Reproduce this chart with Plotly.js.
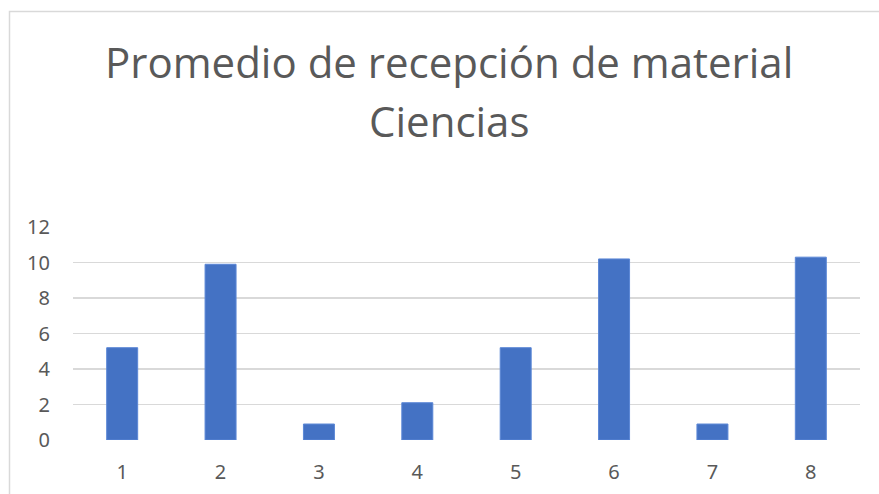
<!DOCTYPE html>
<html>
<head>
<meta charset="utf-8">
<script src="https://cdn.plot.ly/plotly-3.0.1.min.js"></script>
<style>html,body{margin:0;padding:0;background:#fff;}#chart{width:879px;height:494px;}</style>
</head>
<body>
<div id="chart"></div>
<script>
const categories = ["1", "2", "3", "4", "5", "6", "7", "8"];
const values = [5.2, 9.9, 0.9, 2.1, 5.2, 10.2, 0.9, 10.3];
const yTicks = [0, 2, 4, 6, 8, 10, 12];
const titleLines = ["Promedio de recepción de material", "Ciencias"];

const trace = {
  type: "bar",
  x: categories,
  y: values,
  marker: {color: "#4472c4", line: {color: "#5b87d6", width: 1}},
  hoverinfo: "x+y"
};

const plotW = 787, plotH = 213, mL = 73, mT = 227;
const titleFont = {family: "Open Sans", size: 42, color: "#595959"};
const tickFont = {family: "Noto Sans", size: 20, color: "#595959"};

const layout = {
  width: 879,
  height: 494,
  margin: {l: mL, r: 19, t: mT, b: 54},
  paper_bgcolor: "#ffffff",
  plot_bgcolor: "#ffffff",
  showlegend: false,
  bargap: 0.685,
  xaxis: {
    type: "category",
    showgrid: false,
    zeroline: false,
    showline: false,
    ticks: "",
    tickfont: tickFont,
    ticklabelstandoff: 18
  },
  yaxis: {
    range: [0, 12],
    tickvals: yTicks,
    ticktext: yTicks.map(String),
    showgrid: true,
    gridcolor: "#d9d9d9",
    gridwidth: 1.5,
    zeroline: false,
    showline: false,
    ticks: "",
    tickfont: tickFont,
    ticklabelstandoff: 22
  },
  annotations: [
    {text: titleLines[0], xref: "paper", yref: "paper", x: (448.5 - mL) / plotW, y: (440 - 61) / plotH,
     xanchor: "center", yanchor: "middle", showarrow: false, font: titleFont},
    {text: titleLines[1], xref: "paper", yref: "paper", x: (448.5 - mL) / plotW, y: (440 - 120) / plotH,
     xanchor: "center", yanchor: "middle", showarrow: false, font: titleFont}
  ],
  shapes: [{
    type: "rect", xref: "paper", yref: "paper",
    x0: (9.5 - mL) / plotW, x1: 1.2, y0: -0.5, y1: 1 + (mT - 11.5) / plotH,
    line: {color: "#d9d9d9", width: 1.5}, layer: "below"
  }]
};

Plotly.newPlot("chart", [trace], layout, {displayModeBar: false, staticPlot: true});
</script>
</body>
</html>
